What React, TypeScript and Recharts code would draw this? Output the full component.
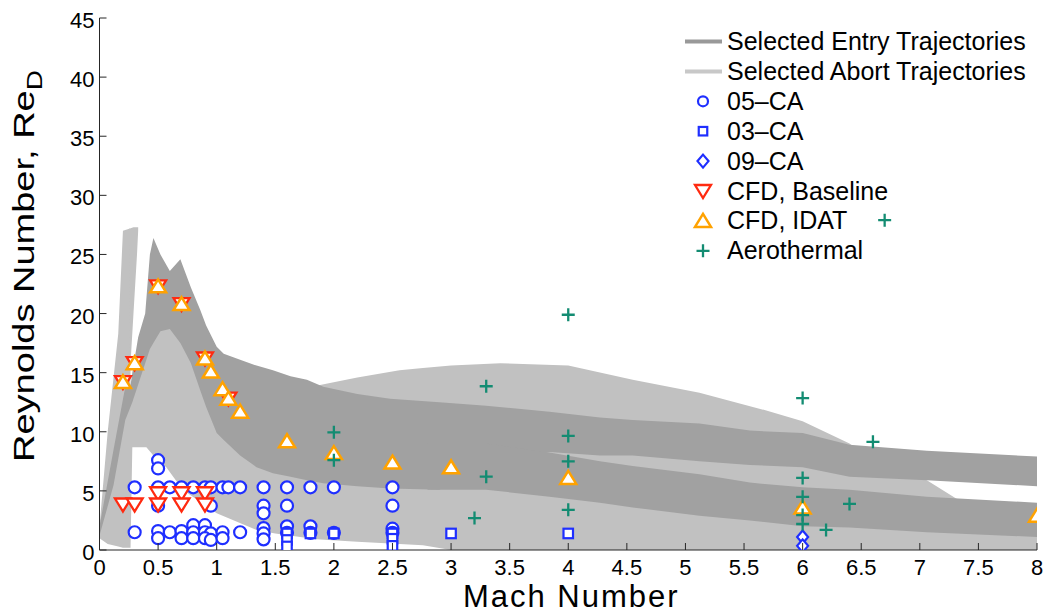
import React from 'react';
import { ComposedChart, Area, Scatter, XAxis, YAxis, Label, Customized } from 'recharts';

// ---------- trajectory envelopes (Mach, lower Re_D, upper Re_D) ----------
const abortMach = [0, 0.07, 0.16, 0.2, 0.26, 0.265, 0.28, 0.34, 0.4, 0.46, 0.57, 0.71, 1.0, 1.34, 1.5, 1.85, 2.2, 2.56, 2.76, 3.0, 3.42, 4.0, 4.55, 5.12, 5.69, 6.0, 6.4, 6.6, 7.06, 7.32, 8.0];
const abortLow = [1.0, 0.5, 0.3, 0.2, 0.2, 0.2, 8.7, 8.7, 8.7, 8.0, 7.0, 5.1, 3.1, 1.7, 1.4, 0.9, 0.7, 0.5, 0.4, 0.0, 0.0, 0.0, 0.0, 0.0, 0.0, 0.0, 0.0, 0.0, 0.0, 0.0, 0.0];
const abortHigh = [2.0, 10.0, 18.3, 27.0, 27.2, 14.0, 14.0, 14.5, 16.5, 18.0, 19.5, 19.5, 14.0, 12.0, 12.0, 13.9, 14.6, 15.2, 15.4, 15.6, 15.8, 15.6, 14.4, 13.3, 11.8, 10.9, 9.0, 7.5, 5.9, 4.3, 3.9];

const abortSpikeMach = [0.255, 0.26, 0.29, 0.32, 0.33];
const abortSpikeLow = [26.0, 15.0, 20.0, 25.0, 27.0];
const abortSpikeHigh = [27.2, 27.2, 27.3, 27.3, 27.3];

const entryMach = [0, 0.12, 0.22, 0.26, 0.28, 0.33, 0.39, 0.43, 0.46, 0.52, 0.6, 0.69, 0.78, 0.86, 0.91, 1.0, 1.06, 1.2, 1.34, 1.48, 1.63, 1.77, 1.91, 2.2, 2.48, 2.9, 3.3, 3.84, 4.27, 4.55, 5.12, 5.55, 6.0, 6.4, 7.06, 8.0];
const entryLow = [1.2, 5.5, 11.0, 12.0, 12.5, 14.0, 15.8, 17.0, 17.5, 18.5, 18.7, 17.5, 15.8, 13.5, 12.1, 9.9, 9.3, 8.0, 7.0, 6.5, 6.2, 5.9, 5.65, 5.4, 5.2, 5.1, 7.5, 8.3, 8.0, 8.0, 7.5, 7.2, 7.0, 6.2, 5.9, 5.4];
const entryHigh = [2.0, 8.5, 13.8, 13.6, 15.0, 18.0, 20.0, 25.0, 26.4, 25.0, 23.6, 24.6, 22.2, 20.3, 19.0, 17.2, 16.6, 16.1, 15.6, 15.2, 14.7, 14.4, 13.8, 13.2, 12.8, 12.5, 12.2, 11.7, 11.2, 11.0, 10.7, 10.1, 9.9, 8.9, 8.4, 7.9];

const entryLowerMach = [2.8, 3.3, 3.84, 4.27, 4.55, 5.12, 5.55, 6.0, 6.4, 7.06, 8.0];
const entryLowerLow = [5.1, 5.1, 4.5, 4.0, 3.6, 2.9, 2.5, 2.0, 1.9, 1.5, 1.1];
const entryLowerHigh = [9.0, 9.0, 8.25, 7.5, 7.1, 6.4, 5.7, 5.3, 5.1, 4.5, 4.0];

// ---------- test points ----------
const ca05Mach = [0.3, 0.5, 0.6, 0.7, 0.8, 0.9, 0.95, 1.05, 1.1, 1.2, 1.4, 1.6, 1.8, 2.0, 2.5,
  0.5, 0.5,
  0.5, 0.95, 1.4, 1.6, 2.5, 1.4,
  0.8, 0.9, 1.6, 1.8, 1.4, 2.5,
  0.3, 0.5, 0.6, 0.7, 0.8, 0.9, 0.95, 1.05, 1.2, 1.4, 1.6, 1.8, 2.0, 2.5,
  0.5, 0.7, 0.8, 0.9, 0.95, 1.05, 1.4];
const ca05Re = [5.3, 5.3, 5.3, 5.3, 5.3, 5.3, 5.3, 5.3, 5.3, 5.3, 5.3, 5.3, 5.3, 5.3, 5.3,
  7.6, 6.9,
  3.75, 3.75, 3.75, 3.75, 3.75, 3.1,
  2.1, 2.1, 2.0, 2.0, 1.85, 1.8,
  1.5, 1.6, 1.5, 1.6, 1.5, 1.5, 1.4, 1.5, 1.5, 1.4, 1.45, 1.45, 1.45, 1.45,
  1.0, 1.0, 1.0, 1.0, 0.85, 1.0, 0.9];

const ca03Mach = [1.6, 1.6, 1.6, 1.8, 2.0, 2.5, 2.5, 2.5, 3.0, 4.0];
const ca03Re = [1.4, 0.85, 0.3, 1.4, 1.4, 1.4, 0.95, 0.35, 1.4, 1.4];

const ca09Mach = [6.0, 6.0];
const ca09Re = [1.1, 0.35];

const cfdBaseMach = [0.2, 0.3, 0.5, 0.7, 0.9, 1.1, 0.2, 0.3, 0.5, 0.5, 0.7, 0.7, 0.9, 0.9];
const cfdBaseRe = [14.2, 15.8, 22.3, 20.8, 16.2, 12.8, 3.85, 3.85, 4.8, 3.85, 4.8, 3.85, 4.8, 3.85];

const cfdIdatMach = [0.2, 0.3, 0.5, 0.7, 0.9, 0.95, 1.05, 1.1, 1.2, 1.6, 2.0, 2.5, 3.0, 4.0, 6.0, 8.0];
const cfdIdatRe = [14.2, 15.8, 22.3, 20.8, 16.2, 15.1, 13.6, 12.8, 11.7, 9.2, 8.2, 7.4, 7.0, 6.1, 3.6, 2.9];

const aeroMach = [2.0, 2.0, 3.2, 3.3, 3.3, 4.0, 4.0, 4.0, 4.0, 6.0, 6.6, 6.0, 6.0, 6.4, 6.0, 6.0, 6.2, 6.7];
const aeroRe = [9.95, 7.6, 2.7, 13.85, 6.2, 19.9, 9.65, 7.5, 3.4, 12.85, 9.15, 6.1, 4.5, 3.9, 2.95, 2.2, 1.7, 27.9];

const xTicks = [0, 0.5, 1, 1.5, 2, 2.5, 3, 3.5, 4, 4.5, 5, 5.5, 6, 6.5, 7, 7.5, 8];
const yTicks = [0, 5, 10, 15, 20, 25, 30, 35, 40, 45];

const legendLabels = ['Selected Entry Trajectories', 'Selected Abort Trajectories', '05\u2013CA', '03\u2013CA', '09\u2013CA', 'CFD, Baseline', 'CFD, IDAT', 'Aerothermal'];

// ---------- helpers ----------
const band = (m: number[], lo: number[], hi: number[]) => m.map((x, i) => ({ x, band: [lo[i], hi[i]] }));
const pts = (m: number[], r: number[]) => m.map((x, i) => ({ x, y: r[i] }));

const abortData = band(abortMach, abortLow, abortHigh);
const abortSpikeData = band(abortSpikeMach, abortSpikeLow, abortSpikeHigh);
const entryData = band(entryMach, entryLow, entryHigh);
const entryLowerData = band(entryLowerMach, entryLowerLow, entryLowerHigh);

const FONT = '"Liberation Sans", Arial, Helvetica, sans-serif';
const AXIS = '#262626';
const BLUE = '#1f2fff';
const RED = '#ff2a10';
const ORANGE = '#ffa200';
const GREEN = '#138c72';
const ENTRY = '#a1a1a1';
const ABORT = '#c1c1c1';

const Circ = ({ cx, cy, r = 6 }: any) => <circle cx={cx} cy={cy} r={r} fill="#fff" stroke={BLUE} strokeWidth={2.2} />;
const Sq = ({ cx, cy, s = 9.5 }: any) => <rect x={cx - s / 2} y={cy - s / 2} width={s} height={s} fill="#fff" stroke={BLUE} strokeWidth={2.2} />;
const Dia = ({ cx, cy }: any) => <path d={`M${cx},${cy - 6.5}L${cx + 5.5},${cy}L${cx},${cy + 6.5}L${cx - 5.5},${cy}Z`} fill="#fff" stroke={BLUE} strokeWidth={2.2} />;
const DownTri = ({ cx, cy }: any) => <path d={`M${cx - 8},${cy - 6}L${cx + 8},${cy - 6}L${cx},${cy + 7}Z`} fill="#fff" stroke={RED} strokeWidth={2.3} strokeLinejoin="miter" />;
const UpTri = ({ cx, cy }: any) => <path d={`M${cx},${cy - 7}L${cx + 8},${cy + 6}L${cx - 8},${cy + 6}Z`} fill="#fff" stroke={ORANGE} strokeWidth={2.5} strokeLinejoin="miter" />;
const Plus = ({ cx, cy }: any) => (
  <path d={`M${cx - 6.5},${cy}H${cx + 6.5}M${cx},${cy - 6.5}V${cy + 6.5}`} stroke={GREEN} strokeWidth={2.3} fill="none" />
);

const XTick = (props: any) => {
  const { x, y, payload } = props;
  return (
    <g>
      <line x1={x} y1={y} x2={x} y2={y - 7} stroke={AXIS} strokeWidth={1} />
      <text x={x} y={y + 25} textAnchor="middle" fontSize={22} fontFamily={FONT} fill="#000">{String(payload.value)}</text>
    </g>
  );
};

const YTick = (props: any) => {
  const { x, y, payload } = props;
  return (
    <g>
      <line x1={x} y1={y} x2={x + 7} y2={y} stroke={AXIS} strokeWidth={1} />
      <text x={x - 5} y={y + 10} textAnchor="end" fontSize={22} fontFamily={FONT} fill="#000">{String(payload.value)}</text>
    </g>
  );
};

const XLabel = (props: any) => {
  const vb = props.viewBox || { x: 99.5, y: 550, width: 937.5 };
  return (
    <text x={vb.x + vb.width / 2 + 3} y={vb.y + 57} textAnchor="middle" fontSize={31} letterSpacing={2} fontFamily={FONT} fill="#000">Mach Number</text>
  );
};

const YLabel = (props: any) => {
  const vb = props.viewBox || { x: 0, y: 18, height: 532 };
  const cx = vb.x + 34;
  const cy = vb.y + vb.height / 2 - 18;
  return (
    <text x={0} y={0} transform={`translate(${cx},${cy}) rotate(-90) scale(1,0.8)`} textAnchor="middle" fontSize={38} fontFamily={FONT} fill="#000">
      Reynolds Number, Re<tspan fontSize={28} dy={10}>D</tspan>
    </text>
  );
};

const LegendBox = () => {
  const rowY = (i: number) => 41.5 + i * 29.9;
  const lx0 = 685;
  const lx1 = 722;
  const mx = 703;
  const tx = 727;
  const markers = [
    <line key="m0" x1={lx0} y1={rowY(0)} x2={lx1} y2={rowY(0)} stroke="#999999" strokeWidth={4} />,
    <line key="m1" x1={lx0} y1={rowY(1)} x2={lx1} y2={rowY(1)} stroke="#c8c8c8" strokeWidth={4} />,
    <Circ key="m2" cx={mx} cy={rowY(2)} r={5} />,
    <Sq key="m3" cx={mx} cy={rowY(3)} s={8.5} />,
    <Dia key="m4" cx={mx} cy={rowY(4)} />,
    <DownTri key="m5" cx={mx} cy={rowY(5)} />,
    <UpTri key="m6" cx={mx} cy={rowY(6)} />,
    <Plus key="m7" cx={mx} cy={rowY(7)} />,
  ];
  return (
    <g>
      {markers}
      {legendLabels.map((t, i) => (
        <text key={t} x={tx} y={rowY(i) + 8.5} fontSize={25} fontFamily={FONT} fill="#000">{t}</text>
      ))}
    </g>
  );
};

export default function App() {
  return (
    <div style={{ position: 'fixed', left: 0, top: 0, width: 1047, height: 614, background: '#fff' }}>
      <ComposedChart width={1047} height={614} margin={{ top: 18, right: 10, bottom: 0, left: 0 }}>
        <XAxis
          type="number"
          dataKey="x"
          domain={[0, 8]}
          ticks={xTicks}
          interval={0}
          allowDataOverflow
          height={64}
          tickSize={0}
          tickMargin={0}
          tickLine={false}
          axisLine={{ stroke: AXIS, strokeWidth: 1 }}
          tick={XTick}
        >
          <Label content={XLabel} />
        </XAxis>
        <YAxis
          type="number"
          dataKey="y"
          domain={[0, 45]}
          ticks={yTicks}
          interval={0}
          allowDataOverflow
          width={99.5}
          tickSize={0}
          tickMargin={0}
          tickLine={false}
          axisLine={{ stroke: AXIS, strokeWidth: 1 }}
          tick={YTick}
        >
          <Label content={YLabel} />
        </YAxis>

        <Area data={abortData} dataKey="band" type="linear" stroke="none" fill={ABORT} fillOpacity={1} isAnimationActive={false} dot={false} activeDot={false} />
        <Area data={abortSpikeData} dataKey="band" type="linear" stroke="none" fill={ABORT} fillOpacity={1} isAnimationActive={false} dot={false} activeDot={false} />
        <Area data={entryData} dataKey="band" type="linear" stroke="none" fill={ENTRY} fillOpacity={1} isAnimationActive={false} dot={false} activeDot={false} />
        <Area data={entryLowerData} dataKey="band" type="linear" stroke="none" fill={ENTRY} fillOpacity={1} isAnimationActive={false} dot={false} activeDot={false} />

        <Scatter data={pts(ca05Mach, ca05Re)} shape={Circ} isAnimationActive={false} />
        <Scatter data={pts(ca03Mach, ca03Re)} shape={Sq} isAnimationActive={false} />
        <Scatter data={pts(ca09Mach, ca09Re)} shape={Dia} isAnimationActive={false} />
        <Scatter data={pts(cfdBaseMach, cfdBaseRe)} shape={DownTri} isAnimationActive={false} />
        <Scatter data={pts(cfdIdatMach, cfdIdatRe)} shape={UpTri} isAnimationActive={false} />
        <Scatter data={pts(aeroMach, aeroRe)} shape={Plus} isAnimationActive={false} />

        <Customized component={LegendBox} />
      </ComposedChart>
    </div>
  );
}
